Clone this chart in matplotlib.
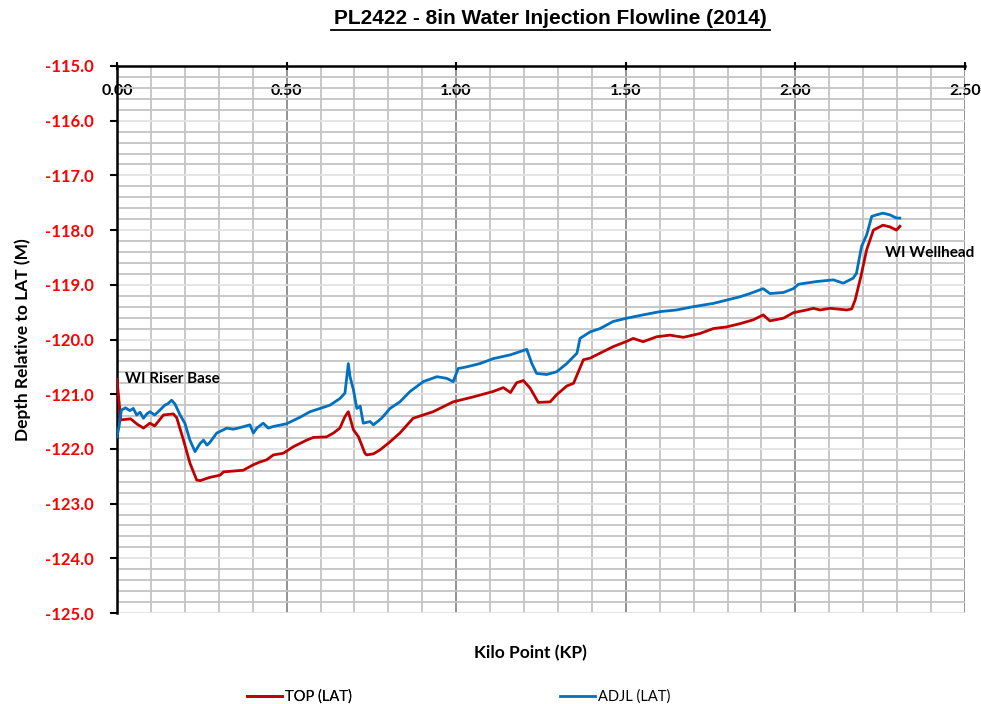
import matplotlib
matplotlib.use("Agg")
import matplotlib.pyplot as plt
from matplotlib.ticker import MultipleLocator, FormatStrFormatter

kp_top = [0.000, 0.011, 0.04, 0.06, 0.078, 0.097, 0.111, 0.137, 0.166, 0.176, 0.196, 0.215, 0.235, 0.245,
          0.274, 0.304, 0.314, 0.372, 0.402, 0.421, 0.441, 0.461, 0.49, 0.52, 0.559, 0.579, 0.618, 0.638,
          0.657, 0.672, 0.682, 0.697, 0.712, 0.731, 0.736, 0.756, 0.775, 0.805, 0.834, 0.873, 0.932, 0.991,
          1.05, 1.109, 1.139, 1.16, 1.178, 1.198, 1.218, 1.242, 1.277, 1.296, 1.326, 1.346, 1.375, 1.395,
          1.424, 1.463, 1.50, 1.522, 1.551, 1.591, 1.63, 1.67, 1.719, 1.758, 1.797, 1.837, 1.876, 1.905,
          1.925, 1.965, 1.994, 2.033, 2.053, 2.073, 2.102, 2.152, 2.166, 2.176, 2.193, 2.21, 2.23, 2.258,
          2.278, 2.298, 2.308]
top = [-120.73, -121.47, -121.45, -121.55, -121.62, -121.53, -121.58, -121.38, -121.36, -121.43, -121.84,
       -122.26, -122.57, -122.58, -122.52, -122.48, -122.42, -122.39, -122.29, -122.24, -122.20, -122.11,
       -122.08, -121.96, -121.84, -121.79, -121.78, -121.71, -121.62, -121.41, -121.32, -121.65, -121.78,
       -122.08, -122.11, -122.09, -122.02, -121.87, -121.71, -121.44, -121.32, -121.14, -121.05, -120.95,
       -120.88, -120.97, -120.79, -120.75, -120.89, -121.15, -121.14, -121.01, -120.85, -120.80, -120.37,
       -120.34, -120.25, -120.13, -120.04, -119.98, -120.04, -119.95, -119.92, -119.96, -119.89, -119.80,
       -119.77, -119.71, -119.64, -119.55, -119.66, -119.61, -119.51, -119.46, -119.43, -119.46, -119.43,
       -119.46, -119.44, -119.28, -118.85, -118.36, -118.00, -117.91, -117.94, -118.00, -117.93]

kp_adjl = [0.0, 0.006, 0.013, 0.025, 0.038, 0.048, 0.058, 0.068, 0.078, 0.088, 0.097, 0.111, 0.125, 0.141,
           0.151, 0.161, 0.171, 0.186, 0.2, 0.215, 0.23, 0.24, 0.245, 0.255, 0.265, 0.274, 0.294, 0.324,
           0.343, 0.363, 0.392, 0.402, 0.412, 0.431, 0.446, 0.461, 0.5, 0.54, 0.569, 0.599, 0.628, 0.657,
           0.672, 0.682, 0.687, 0.697, 0.707, 0.717, 0.726, 0.746, 0.756, 0.78, 0.805, 0.834, 0.864, 0.903,
           0.943, 0.972, 0.991, 1.006, 1.031, 1.07, 1.109, 1.16, 1.208, 1.223, 1.237, 1.267, 1.296, 1.326,
           1.356, 1.365, 1.395, 1.424, 1.463, 1.503, 1.551, 1.601, 1.65, 1.699, 1.758, 1.797, 1.836, 1.866,
           1.905, 1.925, 1.965, 1.994, 2.009, 2.063, 2.112, 2.141, 2.17, 2.18, 2.195, 2.21, 2.225, 2.24,
           2.258, 2.278, 2.298, 2.308]
adjl = [-121.78, -121.59, -121.29, -121.25, -121.30, -121.26, -121.38, -121.33, -121.44, -121.36, -121.32,
        -121.38, -121.30, -121.20, -121.17, -121.11, -121.18, -121.38, -121.53, -121.84, -122.05, -121.95,
        -121.90, -121.84, -121.93, -121.88, -121.71, -121.62, -121.64, -121.61, -121.56, -121.71, -121.62,
        -121.53, -121.62, -121.59, -121.54, -121.42, -121.32, -121.26, -121.20, -121.08, -120.98, -120.44,
        -120.68, -120.92, -121.26, -121.22, -121.53, -121.50, -121.56, -121.44, -121.26, -121.14, -120.95,
        -120.77, -120.68, -120.71, -120.77, -120.53, -120.50, -120.44, -120.35, -120.28, -120.18, -120.44,
        -120.62, -120.64, -120.59, -120.44, -120.25, -119.98, -119.86, -119.80, -119.67, -119.61, -119.55,
        -119.49, -119.46, -119.40, -119.34, -119.28, -119.22, -119.16, -119.07, -119.16, -119.14, -119.07,
        -118.99, -118.94, -118.91, -118.97, -118.88, -118.79, -118.30, -118.09, -117.75, -117.72, -117.69,
        -117.72, -117.78, -117.78]

series_names = ["TOP (LAT)", "ADJL (LAT)"]
title = "PL2422 - 8in Water Injection Flowline (2014)"
ann_start = "WI Riser Base"
ann_end = "WI Wellhead"

FONT = ["Lato", "DejaVu Sans"]
fig = plt.figure(figsize=(9.81, 7.04), dpi=100)
ax = fig.add_axes([117/981, 1-613/704, (965-117)/981, (613-66)/704])

ax.set_xlim(0, 2.5)
ax.set_ylim(-125, -115)

# grid
ax.xaxis.set_major_locator(MultipleLocator(0.5))
ax.xaxis.set_minor_locator(MultipleLocator(0.1))
ax.yaxis.set_major_locator(MultipleLocator(1.0))
ax.yaxis.set_minor_locator(MultipleLocator(0.2))
ax.grid(which="minor", axis="x", color="#c4c4c4", lw=1.3)
ax.grid(which="major", axis="x", color="#8a8a8a", lw=1.3)
ax.grid(which="minor", axis="y", color="#c4c4c4", lw=1.3)
ax.grid(which="major", axis="y", color="#e2e2e2", lw=1.3)
ax.set_axisbelow(True)

l1, = ax.plot(kp_top, top, color="#c00000", lw=2.0, label=series_names[0], zorder=3)
l2, = ax.plot(kp_adjl, adjl, color="#0070c0", lw=2.0, label=series_names[1], zorder=3)

for s in ["bottom", "right"]:
    ax.spines[s].set_visible(False)
for s in ["top", "left"]:
    ax.spines[s].set_color("black")
    ax.spines[s].set_linewidth(1.8)

ax.xaxis.tick_top()
ax.tick_params(axis="x", which="major", direction="inout", length=6, width=1.5, pad=-26,
               labelsize=11.5, labelcolor="black")
ax.tick_params(axis="x", which="minor", length=0)
ax.tick_params(axis="y", which="major", direction="out", length=5, width=1.5, pad=12,
               labelsize=12, labelcolor="#ff0000")
ax.tick_params(axis="y", which="minor", length=0)
ax.xaxis.set_major_formatter(FormatStrFormatter("%.2f"))
ax.yaxis.set_major_formatter(FormatStrFormatter("%.1f"))
for lab in ax.get_xticklabels() + ax.get_yticklabels():
    lab.set_fontfamily(FONT)
    lab.set_fontweight("bold")

ax.set_ylabel("Depth Relative to LAT (M)", fontsize=12.5, fontweight="bold", family=FONT, labelpad=10)

fig.text(550/981, 1-19/704, title, ha="center", va="center", fontsize=15, fontweight="bold",
         family=["Liberation Sans", "DejaVu Sans"])
# underline
fig.add_artist(plt.Line2D([331/981, 770/981], [1-30/704, 1-30/704], color="black", lw=1.3,
                          transform=fig.transFigure))

fig.text(530/981, 1-653/704, "Kilo Point (KP)", ha="center", va="center", fontsize=12.5,
         fontweight="bold", family=FONT)

ax.text(0.025, -120.72, ann_start, ha="left", va="center", fontsize=11, fontweight="bold", family=FONT)
ax.text(2.265, -118.42, ann_end, ha="left", va="center", fontsize=11, fontweight="bold", family=FONT,
        clip_on=False)

leg1 = fig.legend(handles=[l1], loc="center left", bbox_to_anchor=(247/981, 1-697/704), frameon=False,
                  prop={"family": FONT, "size": 10.5}, handlelength=2.4, handletextpad=0.2,
                  borderaxespad=0, borderpad=0)
fig.legend(handles=[l2], loc="center left", bbox_to_anchor=(560/981, 1-697/704), frameon=False,
           prop={"family": FONT, "size": 10.5}, handlelength=2.4, handletextpad=0.2,
           borderaxespad=0, borderpad=0)
fig.add_artist(leg1)

fig.savefig("out.png", dpi=100)
